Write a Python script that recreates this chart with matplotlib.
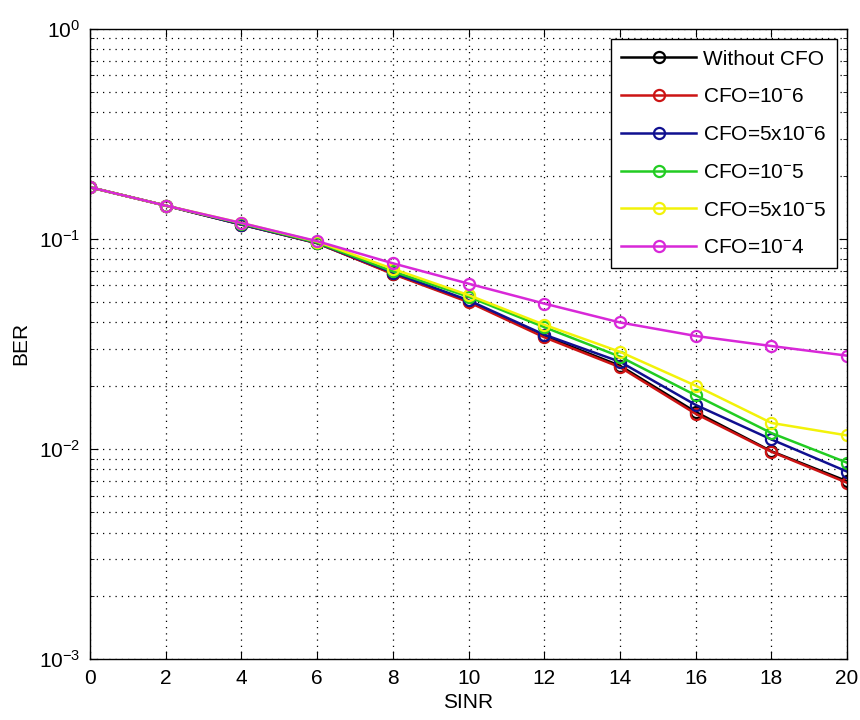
import numpy as np
import matplotlib
matplotlib.use('Agg')
import matplotlib.pyplot as plt
from matplotlib.ticker import LogLocator, NullFormatter

plt.rcParams['font.family'] = ['Liberation Sans', 'DejaVu Sans']
plt.rcParams['mathtext.default'] = 'regular'

# data
sinr = [0, 2, 4, 6, 8, 10, 12, 14, 16, 18, 20]
ber_no_cfo = [0.176, 0.144, 0.117, 0.0953, 0.0684, 0.0505, 0.0345, 0.0249, 0.0150, 0.00975, 0.00702]
ber_1e6 = [0.176, 0.144, 0.117, 0.0955, 0.0680, 0.0500, 0.0340, 0.0245, 0.0147, 0.0097, 0.0069]
ber_5e6 = [0.176, 0.144, 0.117, 0.0957, 0.0690, 0.0510, 0.0350, 0.0260, 0.0162, 0.0111, 0.0078]
ber_1e5 = [0.176, 0.144, 0.118, 0.0960, 0.0700, 0.0530, 0.0380, 0.0275, 0.0180, 0.0119, 0.0086]
ber_5e5 = [0.176, 0.144, 0.119, 0.0970, 0.0720, 0.0540, 0.0390, 0.0290, 0.0200, 0.0133, 0.0116]
ber_1e4 = [0.176, 0.144, 0.119, 0.0975, 0.0765, 0.0612, 0.0492, 0.0400, 0.0345, 0.0309, 0.0278]

labels = ['Without CFO', 'CFO=10$^{-}$6', 'CFO=5x10$^{-}$6',
          'CFO=10$^{-}$5', 'CFO=5x10$^{-}$5', 'CFO=10$^{-}$4']
colors = ['#000000', '#cc1414', '#101090', '#22cc22', '#f2f20a', '#d828d8']
series = [ber_no_cfo, ber_1e6, ber_5e6, ber_1e5, ber_5e5, ber_1e4]

fig = plt.figure(figsize=(8.6, 7.2), dpi=100)
ax = fig.add_axes([0.1047, 0.0847, 0.8803, 0.8753])

for y, c, lab in zip(series, colors, labels):
    ax.semilogy(sinr, y, '-o', color=c, lw=1.8, ms=8, mfc='none', mew=1.6, label=lab)

ax.set_xlim(0, 20)
ax.set_ylim(1e-3, 1)
ax.set_xticks(range(0, 21, 2))
ax.yaxis.set_major_locator(LogLocator(base=10))
ax.yaxis.set_minor_locator(LogLocator(base=10, subs=np.arange(2, 10)))
ax.yaxis.set_minor_formatter(NullFormatter())
ax.set_yticks([1e-3, 1e-2, 1e-1, 1])
ax.set_yticklabels(['10$^{-3}$', '10$^{-2}$', '10$^{-1}$', '10$^{0}$'])

ax.tick_params(which='both', direction='in', top=True, right=True, labelsize=15, color='k')
ax.tick_params(which='major', length=6, pad=7)
ax.tick_params(which='minor', length=3)
ax.grid(True, which='major', color='k', linestyle=(0, (1, 4)), lw=0.9)
ax.grid(True, which='minor', axis='y', color='k', linestyle=(0, (1, 4)), lw=0.9)
for s in ax.spines.values():
    s.set_linewidth(1.0)

ax.set_xlabel('SINR', fontsize=15, labelpad=4)
ax.set_ylabel('BER', fontsize=15, labelpad=6)

leg = ax.legend(loc='upper right', fontsize=15, handlelength=3.6, handletextpad=0.3,
                labelspacing=0.9, borderaxespad=0.5, numpoints=1, fancybox=False,
                framealpha=1, edgecolor='k', borderpad=0.5)
leg.get_frame().set_linewidth(1.0)

fig.savefig('out.png', dpi=100)
